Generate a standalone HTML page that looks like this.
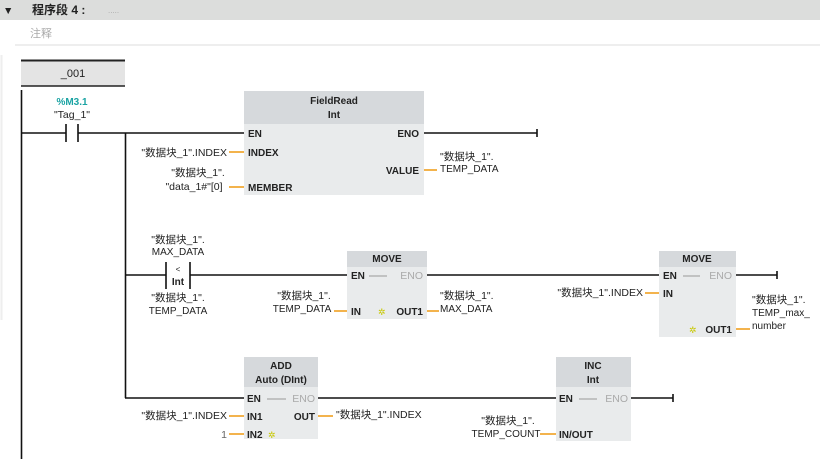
<!DOCTYPE html>
<html><head><meta charset="utf-8"><style>
html,body{margin:0;padding:0;background:#fff;width:820px;height:459px;overflow:hidden}
svg{display:block}
text{font-family:"Liberation Sans","Noto Sans CJK SC",sans-serif;font-size:10.5px;fill:#222}
.b{font-weight:bold;font-size:10px}
.g{fill:#aaa}
.s{font-size:10px}
</style></head><body>
<svg width="820" height="459" viewBox="0 0 820 459">
<rect x="0" y="0" width="820" height="20" fill="#dcdddc"/>
<text x="3" y="14" font-size="9">▼</text>
<text x="32" y="14" class="b" style="font-size:12px">程序段 4 :</text>
<text x="108" y="13" class="g" style="font-size:8px">.....</text>
<text x="30" y="37" class="g" style="font-size:11px">注释</text>
<line x1="15" y1="45" x2="820" y2="45" stroke="#ddd" stroke-width="1"/>
<line x1="1.5" y1="55" x2="1.5" y2="320" stroke="#eee" stroke-width="2"/>
<rect x="21" y="60" width="104" height="26" fill="#e4e4e4"/>
<line x1="21" y1="60.5" x2="125" y2="60.5" stroke="#222" stroke-width="2"/>
<line x1="21" y1="86" x2="125" y2="86" stroke="#222" stroke-width="1.5"/>
<text x="73" y="77" text-anchor="middle" style="font-size:11px">_001</text>

<g stroke="#111" stroke-width="1.6" fill="none">
<line x1="21.5" y1="90" x2="21.5" y2="459"/>
<line x1="21" y1="133" x2="66" y2="133"/>
<line x1="66" y1="124" x2="66" y2="142"/>
<line x1="78" y1="124" x2="78" y2="142"/>
<line x1="78" y1="133" x2="244" y2="133"/>
<line x1="125.5" y1="133" x2="125.5" y2="398"/>
<line x1="424" y1="133" x2="537" y2="133"/>
<line x1="537" y1="129" x2="537" y2="137"/>
<line x1="125" y1="275" x2="166" y2="275"/>
<line x1="166" y1="262" x2="166" y2="289"/>
<line x1="190" y1="262" x2="190" y2="289"/>
<line x1="190" y1="275" x2="347" y2="275"/>
<line x1="427" y1="275" x2="659" y2="275"/>
<line x1="736" y1="275" x2="777" y2="275"/>
<line x1="777" y1="271" x2="777" y2="279"/>
<line x1="125" y1="398" x2="244" y2="398"/>
<line x1="318" y1="398" x2="556" y2="398"/>
<line x1="631" y1="398" x2="673" y2="398"/>
<line x1="673" y1="394" x2="673" y2="402"/>
</g>
<text x="72" y="105" text-anchor="middle" class="b" style="fill:#1aa3a3">%M3.1</text>
<text x="72" y="118" text-anchor="middle">"Tag_1"</text>

<rect x="244" y="91" width="180" height="104" fill="#e9ebec"/>
<rect x="244" y="91" width="180" height="33" fill="#d6d9dc"/>
<text x="334" y="104" text-anchor="middle" class="b">FieldRead</text>
<text x="334" y="118" text-anchor="middle" class="b">Int</text>
<text x="248" y="137" class="b">EN</text>
<text x="419" y="137" text-anchor="end" class="b">ENO</text>
<text x="248" y="156" class="b">INDEX</text>
<text x="419" y="174" text-anchor="end" class="b">VALUE</text>
<text x="248" y="191" class="b">MEMBER</text>
<g stroke="#f0a020" stroke-width="1.6">
<line x1="229" y1="152" x2="244" y2="152"/>
<line x1="229" y1="187" x2="244" y2="187"/>
<line x1="424" y1="170" x2="437" y2="170"/>
<line x1="334" y1="311" x2="347" y2="311"/>
<line x1="427" y1="311" x2="439" y2="311"/>
<line x1="645" y1="293" x2="659" y2="293"/>
<line x1="736" y1="329" x2="750" y2="329"/>
<line x1="229" y1="416" x2="244" y2="416"/>
<line x1="229" y1="434" x2="244" y2="434"/>
<line x1="318" y1="416" x2="333" y2="416"/>
<line x1="540" y1="434" x2="556" y2="434"/>
</g>
<text x="227" y="156" text-anchor="end">"数据块_1".INDEX</text>
<text x="198" y="176" text-anchor="middle">"数据块_1".</text>
<text x="194" y="190" text-anchor="middle">"data_1#"[0]</text>
<text x="440" y="160">"数据块_1".</text>
<text x="440" y="172" class="s">TEMP_DATA</text>

<text x="178" y="243" text-anchor="middle">"数据块_1".</text>
<text x="178" y="255" text-anchor="middle" class="s">MAX_DATA</text>
<text x="178" y="272" text-anchor="middle" style="font-size:8px">&lt;</text>
<text x="178" y="285" text-anchor="middle" class="b">Int</text>
<text x="178" y="301" text-anchor="middle">"数据块_1".</text>
<text x="178" y="314" text-anchor="middle" class="s">TEMP_DATA</text>

<rect x="347" y="251" width="80" height="68" fill="#e9ebec"/>
<rect x="347" y="251" width="80" height="16" fill="#d6d9dc"/>
<text x="387" y="262" text-anchor="middle" class="b">MOVE</text>
<text x="351" y="279" class="b">EN</text>
<line x1="369" y1="276" x2="387" y2="276" stroke="#999"/>
<text x="423" y="279" text-anchor="end" class="g">ENO</text>
<text x="351" y="315" class="b">IN</text>
<text x="378" y="315" style="fill:#c8c800;font-size:9px">✲</text>
<text x="423" y="315" text-anchor="end" class="b">OUT1</text>
<text x="304" y="299" text-anchor="middle">"数据块_1".</text>
<text x="302" y="312" text-anchor="middle" class="s">TEMP_DATA</text>
<text x="440" y="299">"数据块_1".</text>
<text x="440" y="312" class="s">MAX_DATA</text>

<rect x="659" y="251" width="77" height="86" fill="#e9ebec"/>
<rect x="659" y="251" width="77" height="16" fill="#d6d9dc"/>
<text x="697" y="262" text-anchor="middle" class="b">MOVE</text>
<text x="663" y="279" class="b">EN</text>
<line x1="683" y1="276" x2="700" y2="276" stroke="#999"/>
<text x="732" y="279" text-anchor="end" class="g">ENO</text>
<text x="663" y="297" class="b">IN</text>
<text x="689" y="333" style="fill:#c8c800;font-size:9px">✲</text>
<text x="732" y="333" text-anchor="end" class="b">OUT1</text>
<text x="643" y="296" text-anchor="end">"数据块_1".INDEX</text>
<text x="752" y="303">"数据块_1".</text>
<text x="752" y="316" class="s">TEMP_max_</text>
<text x="752" y="329" class="s">number</text>

<rect x="244" y="357" width="74" height="82" fill="#e9ebec"/>
<rect x="244" y="357" width="74" height="30" fill="#d6d9dc"/>
<text x="281" y="369" text-anchor="middle" class="b">ADD</text>
<text x="281" y="383" text-anchor="middle" class="b">Auto (DInt)</text>
<text x="247" y="402" class="b">EN</text>
<line x1="267" y1="399" x2="286" y2="399" stroke="#999"/>
<text x="315" y="402" text-anchor="end" class="g">ENO</text>
<text x="247" y="420" class="b">IN1</text>
<text x="315" y="420" text-anchor="end" class="b">OUT</text>
<text x="247" y="438" class="b">IN2</text>
<text x="268" y="438" style="fill:#c8c800;font-size:9px">✲</text>
<text x="227" y="419" text-anchor="end">"数据块_1".INDEX</text>
<text x="227" y="438" text-anchor="end" style="fill:#666">1</text>
<text x="336" y="418">"数据块_1".INDEX</text>

<rect x="556" y="357" width="75" height="84" fill="#e9ebec"/>
<rect x="556" y="357" width="75" height="30" fill="#d6d9dc"/>
<text x="593" y="369" text-anchor="middle" class="b">INC</text>
<text x="593" y="383" text-anchor="middle" class="b">Int</text>
<text x="559" y="402" class="b">EN</text>
<line x1="579" y1="399" x2="597" y2="399" stroke="#999"/>
<text x="628" y="402" text-anchor="end" class="g">ENO</text>
<text x="559" y="438" class="b">IN/OUT</text>
<text x="508" y="424" text-anchor="middle">"数据块_1".</text>
<text x="506" y="437" text-anchor="middle" class="s">TEMP_COUNT</text>
</svg>
</body></html>
